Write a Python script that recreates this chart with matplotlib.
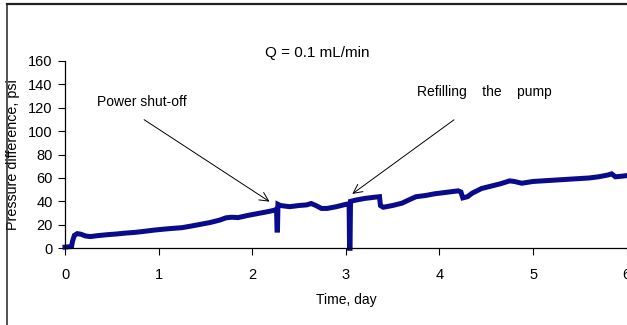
import matplotlib
matplotlib.use("Agg")
import matplotlib.pyplot as plt
from matplotlib.lines import Line2D

plt.rcParams['font.family'] = ['Liberation Sans', 'DejaVu Sans']

# differential pressure log, sampled by hand from the run record
time_day = [0, 0.07, 0.08, 0.10, 0.13, 0.17, 0.22, 0.27, 0.35, 0.45, 0.55, 0.65,
            0.75, 0.85, 0.95, 1.05, 1.15, 1.25, 1.35, 1.45, 1.55, 1.65, 1.72, 1.78,
            1.85, 1.95, 2.05, 2.15, 2.24, 2.26, 2.265, 2.27, 2.275, 2.30, 2.40, 2.50,
            2.58, 2.63, 2.68, 2.74, 2.80, 2.90, 3.00, 3.035, 3.04, 3.045, 3.05, 3.10,
            3.20, 3.30, 3.36, 3.37, 3.40, 3.50, 3.60, 3.68, 3.75, 3.85, 3.95, 4.05,
            4.15, 4.20, 4.23, 4.25, 4.30, 4.35, 4.45, 4.55, 4.65, 4.75, 4.80, 4.88,
            5.0, 5.1, 5.2, 5.3, 5.4, 5.5, 5.6, 5.7, 5.8, 5.84, 5.88, 5.95, 6.0]
pressure_psi = [1.0, 1.5, 6, 11, 12.5, 12, 10.5, 10, 10.8, 11.6, 12.2, 13,
                13.6, 14.5, 15.5, 16.3, 17, 17.6, 19, 20.5, 22, 24, 26, 26.5,
                26.2, 28, 29.5, 31, 32.5, 33.5, 15.5, 15.5, 37.5, 36.5, 35.5, 36.5,
                37, 38.2, 36.5, 34, 34, 35.5, 37.5, 38, 0, 0, 40, 41,
                42.5, 43.5, 44, 36.5, 35, 36.5, 38.5, 41.5, 44, 45, 46.5, 47.5,
                48.5, 49, 48, 43, 44, 47, 51, 53, 55, 57.5, 57, 55.5,
                57, 57.5, 58, 58.5, 59, 59.5, 60, 61, 62.5, 63.5, 61, 61.5, 62]

x_ticks = [0, 1, 2, 3, 4, 5, 6]
y_ticks = [0, 20, 40, 60, 80, 100, 120, 140, 160]

fig = plt.figure(figsize=(6.27, 3.25), dpi=100)
ax = fig.add_axes([0.1037, 0.236, 0.8957, 0.5772])

ax.plot(time_day, pressure_psi, color='#0a0a8c', linewidth=3.6,
        solid_joinstyle='miter', clip_on=False)

ax.set_xlim(0, 6)
ax.set_ylim(0, 160)
ax.set_xticks(x_ticks)
ax.set_yticks(y_ticks)
ax.tick_params(direction='out', length=5, width=0.8, labelsize=10.5, pad=4)
ax.tick_params(axis='x', pad=9)
for side in ['top', 'right']:
    ax.spines[side].set_visible(False)
for side in ['left', 'bottom']:
    ax.spines[side].set_linewidth(0.9)

ax.set_xlabel('Time, day', fontsize=10, labelpad=8)
ax.set_ylabel('Pressure difference, psi', fontsize=10.3, labelpad=0)
ax.yaxis.set_label_coords(-0.08, 0.5)

fig.text(0.506, 0.837, 'Q = 0.1 mL/min', fontsize=11, ha='center', va='center')

# event markers
arrow = dict(arrowstyle='->', color='black', lw=0.7, mutation_scale=16)
ax.text(0.34, 125, 'Power shut-off', fontsize=10, va='center', ha='left')
ax.annotate('', xy=(2.21, 38.5), xytext=(0.82, 111), arrowprops=arrow)
ax.text(3.76, 133, 'Refilling    the    pump', fontsize=10, va='center', ha='left')
ax.annotate('', xy=(3.045, 45), xytext=(4.18, 111), arrowprops=arrow)

# outer chart frame
fig.add_artist(Line2D([7 / 627, 7 / 627], [0, 1 - 4 / 325], transform=fig.transFigure,
                      color='#222222', lw=1.1))
fig.add_artist(Line2D([7 / 627, 1], [1 - 4 / 325, 1 - 4 / 325], transform=fig.transFigure,
                      color='#222222', lw=1.6))

fig.savefig('out.png', dpi=100)
